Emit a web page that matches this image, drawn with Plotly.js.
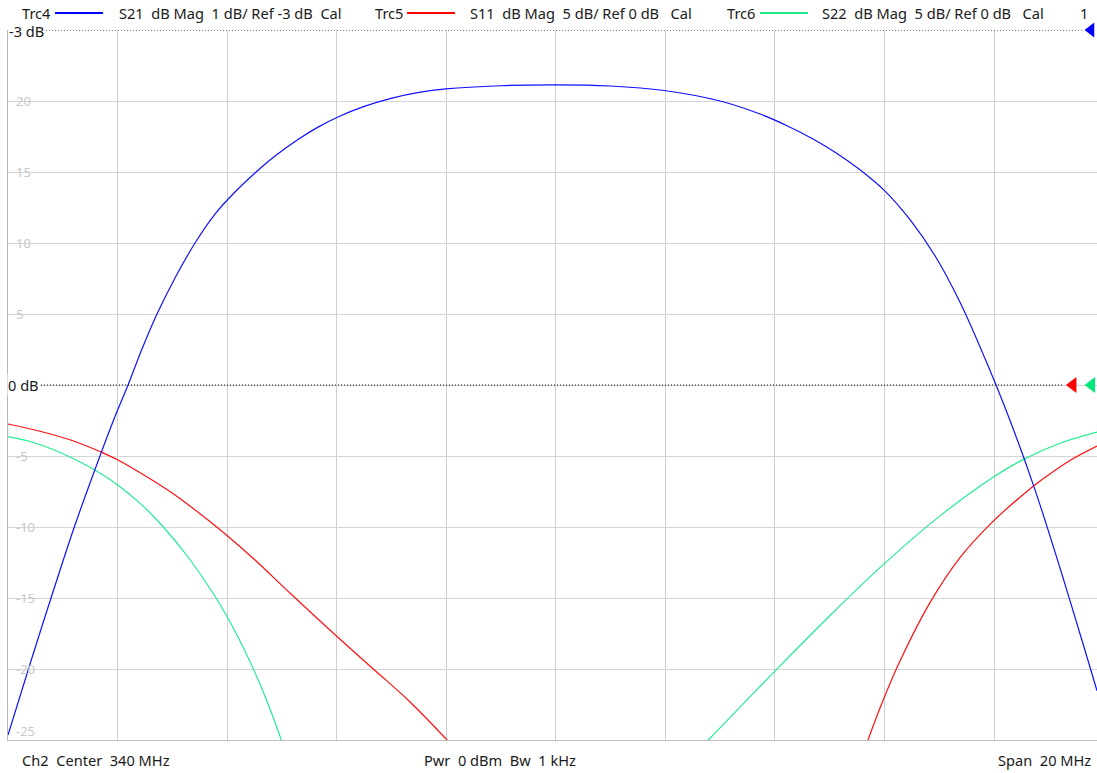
<!DOCTYPE html>
<html>
<head>
<meta charset="utf-8">
<script src="https://cdn.plot.ly/plotly-3.0.1.min.js"></script>
<style>
html,body{margin:0;padding:0;background:#fff;}
#chart{width:1097px;height:773px;}
</style>
</head>
<body>
<div id="chart"></div>
<script>
// ---- data (frequency in MHz) ----
// S21, dB (1 dB/div, ref -3 dB at top)
const s21Freq = [330.000,330.402,330.803,331.223,331.679,331.935,332.191,332.446,332.720,333.049,333.414,333.779,334.144,334.509,334.874,335.294,335.659,336.024,336.517,337.010,337.503,337.996,338.981,339.985,340.990,341.975,342.998,343.728,344.221,344.695,345.133,345.553,346.010,346.466,346.922,347.379,347.835,348.292,348.748,349.204,349.661,349.880];
const s21dB   = [-12.930,-11.930,-10.958,-9.972,-9.000,-8.479,-8.000,-7.493,-7.000,-6.493,-6.000,-5.592,-5.282,-5.014,-4.775,-4.542,-4.368,-4.225,-4.073,-3.959,-3.879,-3.830,-3.785,-3.773,-3.789,-3.852,-4.000,-4.183,-4.348,-4.535,-4.738,-4.969,-5.269,-5.672,-6.180,-6.835,-7.628,-8.500,-9.477,-10.577,-11.739,-12.306];

// S11, dB (5 dB/div, ref 0 dB)
const s11FreqLow = [330.000,330.602,331.223,331.698,331.990,332.556,333.049,333.651,333.998,334.509,335.166,336.006,336.700,337.302,338.014,338.160];
const s11dBLow   = [-2.746,-3.275,-3.979,-4.718,-5.246,-6.514,-7.746,-9.507,-10.599,-12.324,-14.718,-17.711,-20.106,-22.183,-25.000,-25.630];
const s11FreqHigh = [345.553,345.699,345.973,346.283,346.831,347.379,347.963,348.474,348.876,349.387,349.880];
const s11dBHigh   = [-26.606,-25.000,-22.225,-19.444,-15.324,-12.155,-9.676,-7.901,-6.662,-5.310,-4.296];

// S22, dB (5 dB/div, ref 0 dB)
const s22FreqLow = [330.000,330.493,331.004,331.497,331.990,332.428,332.811,333.286,333.779,334.144,334.472,334.746,334.984,335.148];
const s22dBLow   = [-3.641,-4.085,-4.845,-5.796,-7.000,-8.387,-9.894,-12.113,-14.873,-17.338,-19.937,-22.444,-24.937,-26.831];
const s22FreqHigh = [342.632,342.784,343.485,343.965,345.006,345.973,347.014,347.963,348.529,349.204,349.880];
const s22dBHigh   = [-25.606,-25.000,-22.197,-20.289,-16.232,-12.669,-9.218,-6.542,-5.254,-4.106,-3.324];

const yTickVals = [20,15,10,5,-5,-10,-15,-20,-25];
const yTickText = ['20','15','10','5','-5','-10','-15','-20','-25'];

const headerTexts = [
  {trc:'Trc4', desc:'S21\u00a0\u00a0dB Mag\u00a0\u00a01 dB/ Ref -3 dB\u00a0\u00a0Cal', color:'#0000ff'},
  {trc:'Trc5', desc:'S11\u00a0\u00a0dB Mag\u00a0\u00a05 dB/ Ref 0 dB\u00a0\u00a0\u00a0Cal', color:'#ff0000'},
  {trc:'Trc6', desc:'S22\u00a0\u00a0dB Mag\u00a0\u00a05 dB/ Ref 0 dB\u00a0\u00a0\u00a0Cal', color:'#1ee88a'}
];
const footerLeft   = 'Ch2\u00a0\u00a0Center\u00a0\u00a0340 MHz';
const footerMiddle = 'Pwr\u00a0\u00a00 dBm\u00a0\u00a0Bw\u00a0\u00a01 kHz';
const footerRight  = 'Span\u00a0\u00a020 MHz';

// ---- layout helpers (pixel -> paper) ----
const W = 1097, H = 773, L = 8, T = 30, B = 33;
const plotW = W - L, plotH = H - T - B;
const px = x => (x - L) / plotW;
const py = y => (H - B - y) / plotH;

const FONT = 'Noto Sans, DejaVu Sans, sans-serif';
const FS = 14.6;
const TXT = '#1a1a1a';
const lineStyle = c => ({color:c, width:1.2, shape:'spline', smoothing:1});

const traces = [
  {x:s21Freq, y:s21dB, yaxis:'y2', mode:'lines', line:lineStyle('#1010ff'), hoverinfo:'skip'},
  {x:s11FreqLow, y:s11dBLow, mode:'lines', line:lineStyle('#ff1010'), hoverinfo:'skip'},
  {x:s11FreqHigh, y:s11dBHigh, mode:'lines', line:lineStyle('#ff1010'), hoverinfo:'skip'},
  {x:s22FreqLow, y:s22dBLow, mode:'lines', line:lineStyle('#22ee90'), hoverinfo:'skip'},
  {x:s22FreqHigh, y:s22dBHigh, mode:'lines', line:lineStyle('#22ee90'), hoverinfo:'skip'},
  // reference level markers
  {x:[349.77], y:[-3], yaxis:'y2', mode:'markers', cliponaxis:false, marker:{symbol:'triangle-left', size:13, color:'#0000ff'}, hoverinfo:'skip'},
  {x:[349.44], y:[0], mode:'markers', cliponaxis:false, marker:{symbol:'triangle-left', size:14, color:'#ff0000'}, hoverinfo:'skip'},
  {x:[349.78], y:[0], mode:'markers', cliponaxis:false, marker:{symbol:'triangle-left', size:14, color:'#00e87a'}, hoverinfo:'skip'}
];

const annotations = [];
const shapes = [];
// y tick labels inside the plot, with white gaps cut into the gridlines beneath them
const lastTick = yTickVals[yTickVals.length-1];
yTickVals.forEach((v,i)=>{
  const t = yTickText[i];
  const isLast = v === lastTick;
  if (!isLast) {
    const wpx = 7.6*t.replace('-','').length + (t[0]==='-' ? 5 : 0) + 7;
    shapes.push({type:'rect', layer:'between', xref:'paper', yref:'y', x0:px(12), x1:px(12+wpx), y0:v-0.15, y1:v+0.15,
      fillcolor:'#ffffff', line:{width:0}});
  }
  annotations.push({xref:'paper', yref:'y', x:px(14), y:v, text:t, showarrow:false,
    xanchor:'left', yanchor: isLast ? 'bottom' : 'middle', yshift: isLast ? -2 : 0,
    font:{family:FONT, size:13, color:'#c8c8c8'}});
});

// header
const hdrX = [[20,55,103,117],[373,407,455,468],[725,760,808,820]];
headerTexts.forEach((h,i)=>{
  const p = hdrX[i];
  annotations.push({xref:'paper', yref:'paper', x:px(p[0]), y:py(13), text:h.trc, showarrow:false, xanchor:'left', yanchor:'middle', font:{family:FONT, size:FS, color:TXT}});
  shapes.push({type:'line', xref:'paper', yref:'paper', x0:px(p[1]), x1:px(p[2]), y0:py(13), y1:py(13), line:{color:h.color, width:2}});
  annotations.push({xref:'paper', yref:'paper', x:px(p[3]), y:py(13), text:h.desc, showarrow:false, xanchor:'left', yanchor:'middle', font:{family:FONT, size:FS, color:TXT}});
});
annotations.push({xref:'paper', yref:'paper', x:px(1078), y:py(13), text:'1', showarrow:false, xanchor:'left', yanchor:'middle', font:{family:FONT, size:FS, color:TXT}});
// ref level texts
annotations.push({xref:'paper', yref:'paper', x:px(7), y:py(31), text:'-3 dB', showarrow:false, xanchor:'left', yanchor:'middle', font:{family:FONT, size:FS, color:TXT}});
annotations.push({xref:'paper', yref:'paper', x:px(7), y:py(385), text:'0 dB', showarrow:false, xanchor:'left', yanchor:'middle', bgcolor:'#ffffff', borderpad:0, font:{family:FONT, size:FS, color:TXT}});
// footer
annotations.push({xref:'paper', yref:'paper', x:px(20), y:py(760), text:footerLeft, showarrow:false, xanchor:'left', yanchor:'middle', font:{family:FONT, size:FS, color:TXT}});
annotations.push({xref:'paper', yref:'paper', x:px(422), y:py(760), text:footerMiddle, showarrow:false, xanchor:'left', yanchor:'middle', font:{family:FONT, size:FS, color:TXT}});
annotations.push({xref:'paper', yref:'paper', x:px(1093), y:py(760), text:footerRight, showarrow:false, xanchor:'right', yanchor:'middle', font:{family:FONT, size:FS, color:TXT}});

// dotted reference lines
shapes.push({type:'line', xref:'paper', yref:'y2', x0:px(46), x1:px(1084), y0:-3, y1:-3, line:{color:'#000000', width:1, dash:'1px,2px'}});
shapes.push({type:'line', xref:'paper', yref:'y', x0:px(41), x1:px(1064), y0:0, y1:0, line:{color:'#000000', width:1, dash:'1px,2px'}});

const layout = {
  width:W, height:H,
  margin:{l:L, r:0, t:T, b:B, pad:0},
  paper_bgcolor:'#ffffff', plot_bgcolor:'#ffffff',
  showlegend:false,
  xaxis:{range:[330, 330 + plotW/54.78], tick0:330, dtick:2, showgrid:true, gridcolor:'#cfcfcf', gridwidth:1,
         zeroline:false, showticklabels:false, ticks:'', showline:true, linecolor:'#c0c0c0', linewidth:1, fixedrange:true},
  yaxis:{range:[-25,25], tick0:0, dtick:5, showgrid:true, gridcolor:'#d4d4d4', gridwidth:1,
         zeroline:false, showticklabels:false, ticks:'', showline:true, linecolor:'#b8b8b8', linewidth:1, fixedrange:true},
  yaxis2:{range:[-13,-3], overlaying:'y', showgrid:false, zeroline:false, showticklabels:false, ticks:'', showline:false, fixedrange:true},
  annotations:annotations,
  shapes:shapes
};

Plotly.newPlot('chart', traces, layout, {displayModeBar:false, staticPlot:true});
</script>
</body>
</html>
